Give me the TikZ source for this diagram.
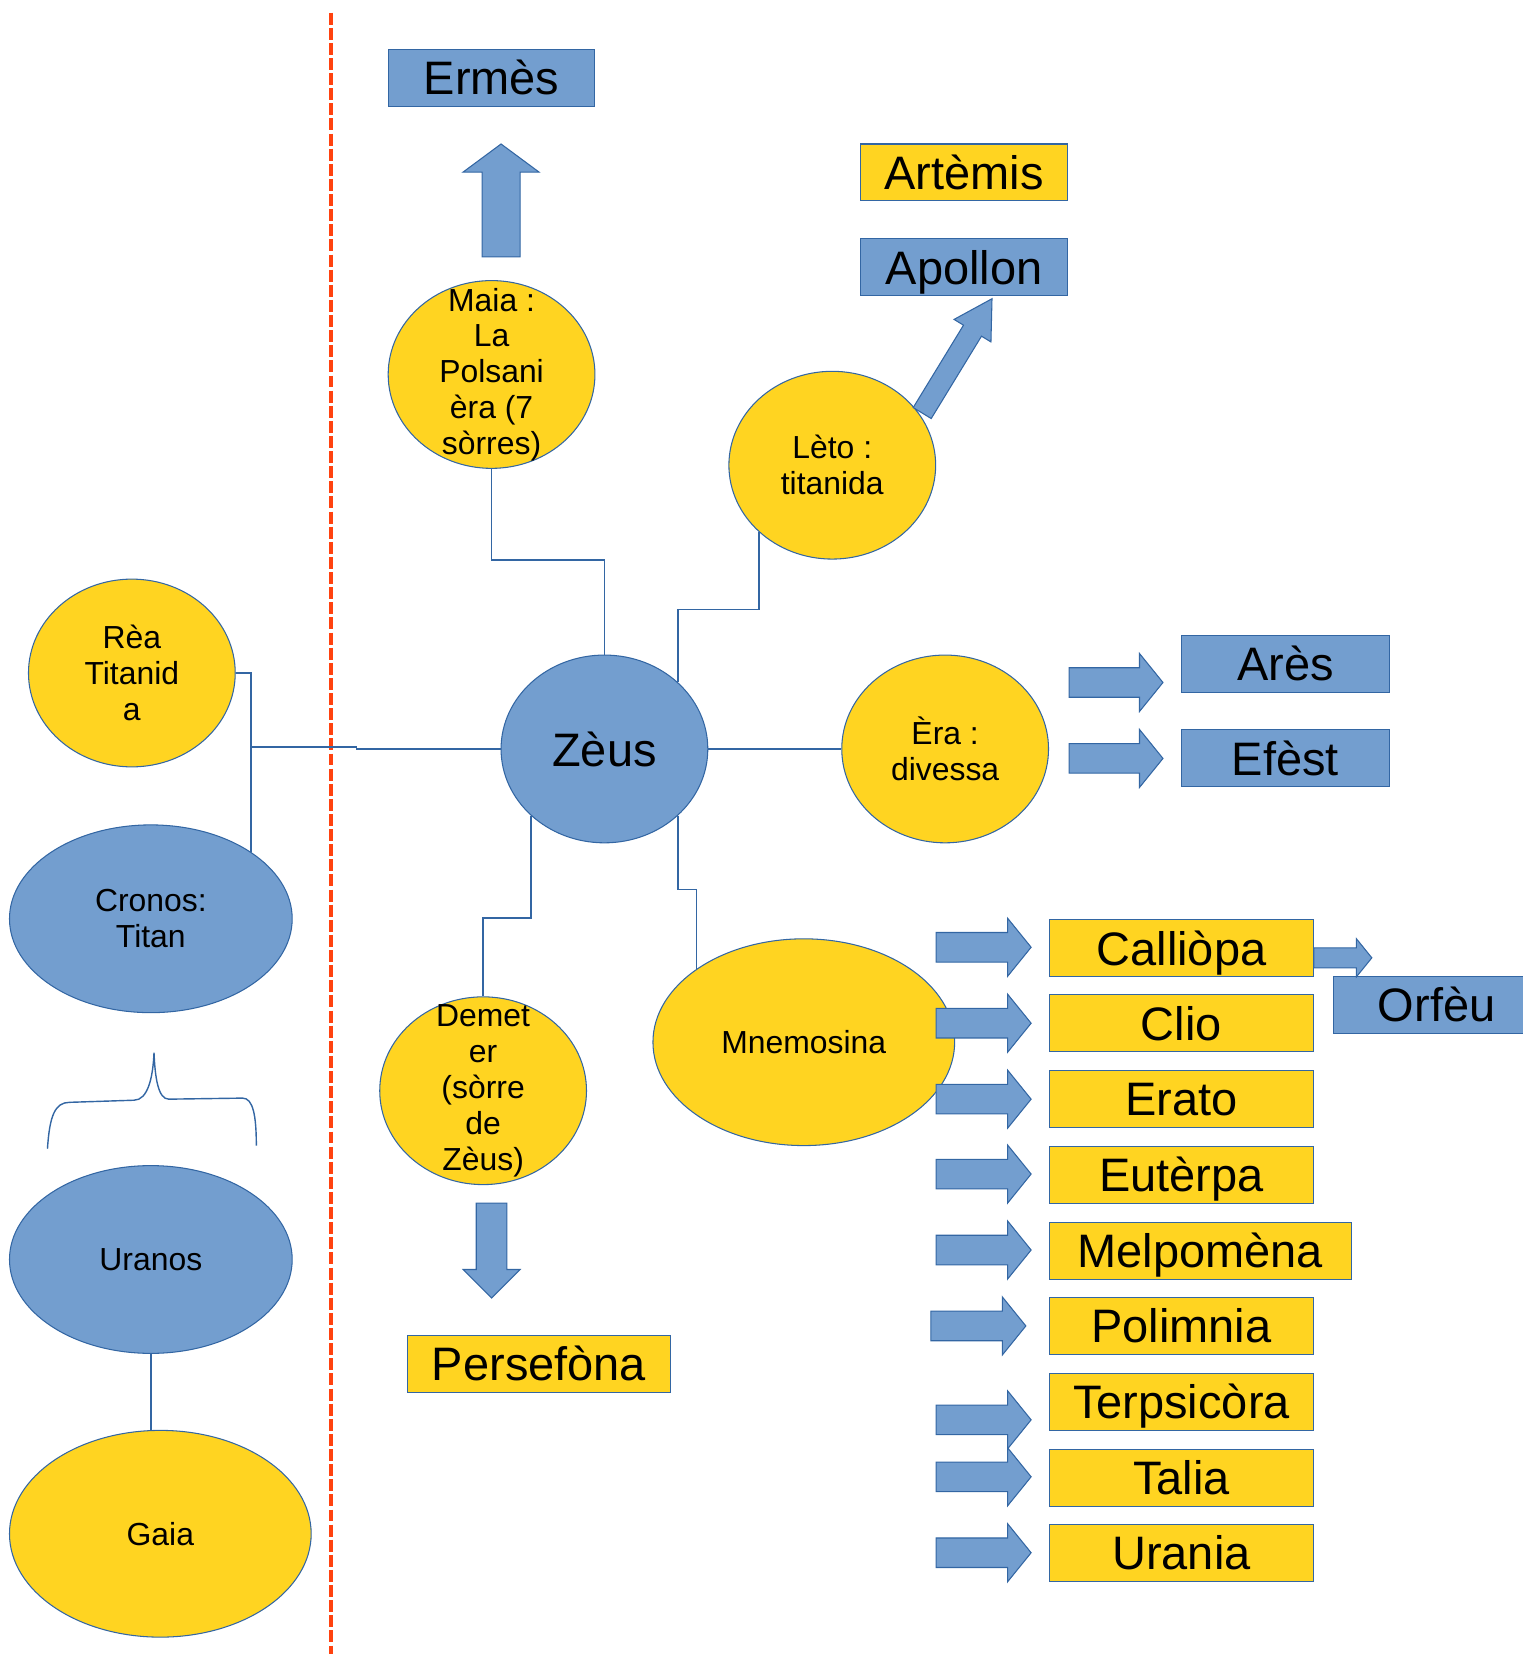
\documentclass[tikz,border=0pt]{standalone}
\usepackage{fontspec}
\usepackage{tikz}
\setmainfont{Liberation Sans}
\usetikzlibrary{shapes.geometric}
\usetikzlibrary{shapes.arrows}
\definecolor{myellow}{rgb}{1, 0.83, 0.13}
\definecolor{mblue}{rgb}{0.45, 0.62, 0.81}
\definecolor{mline}{rgb}{0.2, 0.4, 0.64}
\definecolor{mred}{rgb}{1, 0.26, 0.06}
\tikzset{god/.style = {ellipse, draw=mline, line width=0.3mm, inner sep=-8mm, align=center,
                       font=\fontsize{25.8}{29}\selectfont,
                       minimum width=58.8mm, minimum height=53.4mm},
         namebox/.style = {rectangle, draw=mline, line width=0.3mm, inner sep=0pt,
                           font=\fontsize{38}{44}\selectfont, text height=27.2pt, text depth=0pt,
                           minimum width=75mm, minimum height=16.2mm},
         blockarrow/.style = {single arrow, fill=mblue, draw=mline, line width=0.3mm, anchor=tail,
                              inner xsep=0pt, inner ysep=4.05mm,
                              single arrow head extend=4.05mm, single arrow tip angle=102,
                              minimum height=27mm, minimum width=16.2mm},
         link/.style = {mline, line width=0.4mm}}

\begin{document}
\begin{tikzpicture}[x=0.3mm, y=-0.3mm]
    \useasboundingbox (0, 0) rectangle (1443, 1568);
    \draw [mred, line width=1.1mm, dash pattern=on 3.4mm off 0.9mm] (314, 12) -- (314, 1568);

    \node [god, fill=myellow] (rea) at (125, 638) {Rèa\\Titanid\\a};
    \node [god, fill=mblue, minimum width=80.4mm] (cronos) at (143, 871) {Cronos:\\Titan};
    \node [god, fill=mblue, minimum width=80.4mm] (uranos) at (143, 1194) {Uranos};
    \node [god, fill=myellow, minimum width=85.8mm, minimum height=58.8mm] (gaia) at (152, 1454) {Gaia};
    \draw [mline, line width=0.4mm] (45, 1089) .. controls (47, 1058) and (52, 1045) .. (66, 1045)
        -- (127, 1043) .. controls (140, 1043) and (145, 1022) .. (146, 998)
        .. controls (147, 1022) and (150, 1042) .. (160, 1042)
        -- (230, 1041) .. controls (240, 1041) and (243, 1058) .. (243, 1086);

    \node [god, fill=mblue, font=\fontsize{38}{44}\selectfont] (zeus) at (573, 710) {Zèus};
    \node [god, fill=myellow] (maia) at (466, 355) {Maia :\\La\\Polsani\\èra (7\\sòrres)};
    \node [god, fill=myellow] (leto) at (789, 441) {Lèto :\\titanida};
    \node [god, fill=myellow] (era) at (896, 710) {Èra :\\divessa};
    \node [god, fill=myellow] (demeter) at (458, 1034) {Demet\\er\\(sòrre\\de\\Zèus)};
    \node [god, fill=myellow, minimum width=85.8mm, minimum height=58.8mm] (mnemosina) at (762, 988) {Mnemosina};

    \coordinate (join) at (238, 708);
    \draw [link] (rea.east) -| (cronos.north east);
    \draw [link] (zeus.west) -- (338, 710) -- (338, 708) -- (join);
    \draw [link] (uranos.south) -- (uranos.south |- gaia.north);
    \draw [link] (maia.south) -- (maia.south |- 0, 531) -| (zeus.north);
    \draw [link] (zeus.north east) -- ++(0, -69) -| (leto.south west);
    \draw [link] (zeus.east) -- (era.west);
    \draw [link] (zeus.south west) -- ++(0, 97) -| (demeter.north);
    \draw [link] (zeus.south east) -- ++(0, 70) -| (mnemosina.north west);

    \node [namebox, fill=mblue, minimum width=58.8mm] (ermes) at (466, 74) {Ermès};
    \node [blockarrow, rotate=90, minimum height=32.1mm, minimum width=21.3mm, inner ysep=5.25mm,
           single arrow head extend=5.4mm, single arrow tip angle=107] (upermes) at (475, 244) {};
    \node [namebox, fill=myellow, minimum width=58.8mm] (artemis) at (914, 163.5) {Artèmis};
    \node [namebox, fill=mblue, minimum width=58.8mm] (apollon) at (914, 253.5) {Apollon};
    \node [blockarrow, rotate=58.6, minimum height=38.1mm, minimum width=12mm, inner ysep=2.85mm,
           single arrow head extend=3.15mm, single arrow tip angle=60] (upapollon) at (874, 392) {};
    \node [namebox, fill=mblue, minimum width=59.1mm] (ares) at (1218.5, 629.5) {Arès};
    \node [namebox, fill=mblue, minimum width=59.1mm] (efest) at (1218.5, 719) {Efèst};
    \node [blockarrow, minimum height=26.7mm] (toares) at (1013, 647) {};
    \node [blockarrow, minimum height=26.7mm] (toefest) at (1013, 719) {};
    \node [blockarrow, rotate=-90, minimum height=27mm, minimum width=15.9mm, inner ysep=4.2mm,
           single arrow head extend=3.75mm, single arrow tip angle=90] (downdemeter) at (466, 1140) {};
    \node [namebox, fill=myellow] (persefona) at (511, 1293) {Persefòna};

    \node [namebox, fill=myellow] (calliopa) at (1120, 899) {Calliòpa};
    \node [namebox, fill=myellow] (clio) at (1120, 970) {Clio};
    \node [namebox, fill=myellow] (erato) at (1120, 1042) {Erato};
    \node [namebox, fill=myellow] (euterpa) at (1120, 1114) {Eutèrpa};
    \node [namebox, fill=myellow, minimum width=85.8mm] (melpomena) at (1138, 1186) {Melpomèna};
    \node [namebox, fill=myellow] (polimnia) at (1120, 1257) {Polimnia};
    \node [namebox, fill=myellow] (terpsicora) at (1120, 1329) {Terpsicòra};
    \node [namebox, fill=myellow] (talia) at (1120, 1401) {Talia};
    \node [namebox, fill=myellow] (urania) at (1120, 1472) {Urania};
    \node [namebox, fill=mblue, minimum width=58.8mm] (orfeu) at (1362, 952.5) {Orfèu};

    \node [blockarrow] (tocalliopa) at (887, 898) {};
    \node [blockarrow] (toclio) at (887, 970) {};
    \node [blockarrow] (toerato) at (887, 1042) {};
    \node [blockarrow] (toeuterpa) at (887, 1113) {};
    \node [blockarrow] (tomelpomena) at (887, 1185) {};
    \node [blockarrow] (topolimnia) at (882, 1257) {};
    \node [blockarrow] (toterpsicora) at (887, 1346) {};
    \node [blockarrow] (totalia) at (887, 1400) {};
    \node [blockarrow] (tourania) at (887, 1472) {};
    \node [blockarrow, minimum height=16.5mm, minimum width=10.5mm, inner ysep=2.7mm,
           single arrow head extend=2.55mm] (toorfeu) at (1245, 908) {};
  \end{tikzpicture}
\end{document}
